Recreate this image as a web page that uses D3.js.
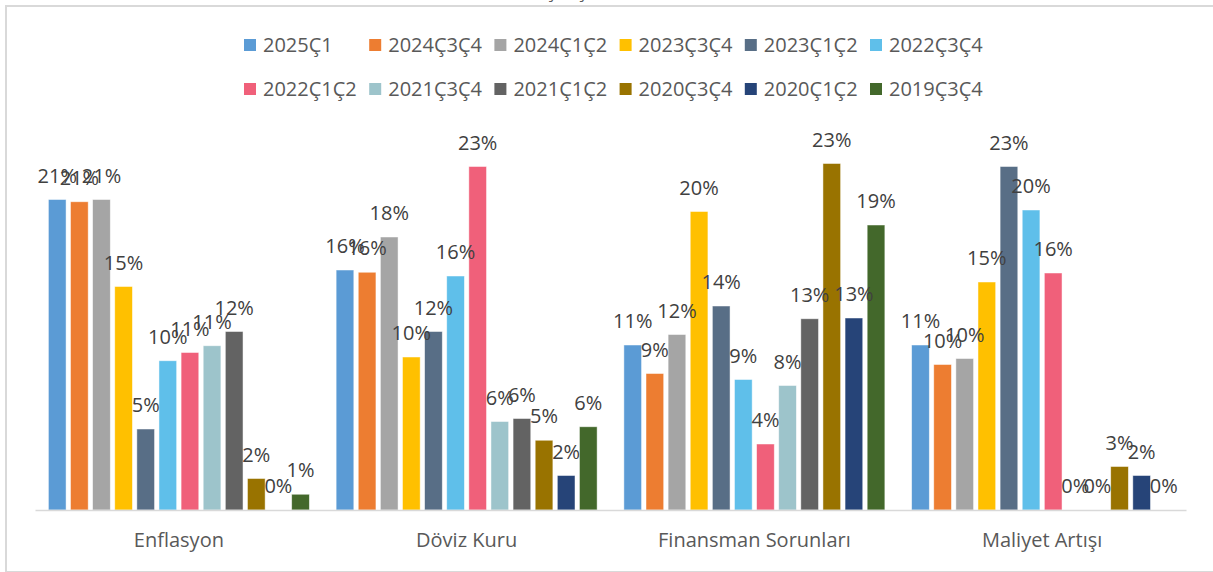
<!DOCTYPE html>
<html>
<head>
<meta charset="utf-8">
<script src="https://cdn.jsdelivr.net/npm/d3@7"></script>
<style>
  body { margin: 0; background: #fff; }
  svg { display: block; font-family: "Open Sans", sans-serif; }
</style>
</head>
<body>
<svg></svg>
<script>
const width = 1213;
const height = 572;

// data
const categories = ["Enflasyon", "Döviz Kuru", "Finansman Sorunları", "Maliyet Artışı"];
const series = ["2025Ç1", "2024Ç3Ç4", "2024Ç1Ç2", "2023Ç3Ç4", "2023Ç1Ç2", "2022Ç3Ç4",
                "2022Ç1Ç2", "2021Ç3Ç4", "2021Ç1Ç2", "2020Ç3Ç4", "2020Ç1Ç2", "2019Ç3Ç4"];
// values (%) per category, in series order
const enflasyon = [20.7, 20.55, 20.7, 14.9, 5.4, 9.95, 10.5, 10.95, 11.9, 2.1, 0, 1.05];
const dovizKuru = [16.0, 15.85, 18.2, 10.2, 11.9, 15.6, 22.9, 5.9, 6.1, 4.65, 2.3, 5.55];
const finansman = [11.0, 9.1, 11.7, 19.9, 13.6, 8.7, 4.4, 8.3, 12.75, 23.1, 12.8, 19.0];
const maliyet = [11.0, 9.7, 10.1, 15.2, 22.9, 20.0, 15.8, 0, 0, 2.9, 2.3, 0];
const values = [enflasyon, dovizKuru, finansman, maliyet];

const colors = ["#5B9BD5", "#ED7D31", "#A5A5A5", "#FFC000", "#586E86", "#5FBFEA",
                "#F0607A", "#9DC4CB", "#636363", "#997300", "#264478", "#43682B"];

let svg = d3.select("svg")
    .attr("width", width)
    .attr("height", height);

// chart frame
svg.append("rect")
    .attr("x", 6).attr("y", 6)
    .attr("width", width + 20).attr("height", height - 6)
    .attr("fill", "none")
    .attr("stroke", "#d9d9d9")
    .attr("stroke-width", 2);

// title (mostly outside the picture)
svg.append("text")
    .attr("x", 610).attr("y", -3)
    .attr("text-anchor", "middle")
    .style("font-size", "20px")
    .style("fill", "#595959")
    .text("Karşılaşılan Sorunlar");

// scales
const x0 = d3.scaleBand()
    .domain(categories)
    .range([35, 1186])
    .paddingInner(0.093)
    .paddingOuter(0.0465);

const x1 = d3.scaleBand()
    .domain(series)
    .range([0, x0.bandwidth()])
    .paddingInner(0.2);

const y = d3.scaleLinear()
    .domain([0, 25])
    .range([510, 135]);

// bars
let groups = svg.append("g").selectAll("g")
    .data(categories)
    .join("g")
    .attr("transform", d => `translate(${x0(d)},0)`);

groups.selectAll("rect")
    .data((d, i) => values[i].map((v, j) => ({ s: series[j], v: v, c: colors[j] })))
    .join("rect")
    .attr("x", d => x1(d.s))
    .attr("y", d => y(d.v))
    .attr("width", x1.bandwidth())
    .attr("height", d => y(0) - y(d.v))
    .attr("fill", d => d.c)
    .attr("stroke", "#ffffff")
    .attr("stroke-opacity", 0.6)
    .attr("stroke-width", 0.8);

// data labels
groups.selectAll("text")
    .data((d, i) => values[i].map((v, j) => ({ s: series[j], v: v })))
    .join("text")
    .attr("x", d => x1(d.s) + x1.bandwidth() / 2)
    .attr("y", d => y(d.v) - 17)
    .attr("text-anchor", "middle")
    .style("font-size", "20px")
    .style("fill", "#404040")
    .text(d => Math.round(d.v) + "%");

// x axis
const xAxis = svg.append("g")
    .attr("transform", `translate(0,${y(0)})`)
    .call(d3.axisBottom(x0).tickSize(0).tickPadding(23));
xAxis.select(".domain").attr("stroke", "#d9d9d9").attr("stroke-width", 1.5);
xAxis.selectAll("text")
    .style("font-family", "Open Sans, sans-serif")
    .style("font-size", "20px")
    .style("fill", "#595959");

// legend: 6 columns, 2 rows
let legend = svg.append("g").selectAll("g")
    .data(series)
    .join("g")
    .attr("transform", (d, i) => `translate(${244 + (i % 6) * 125.2},${i < 6 ? 45 : 89})`);

legend.append("rect")
    .attr("x", 0).attr("y", -6)
    .attr("width", 12).attr("height", 12)
    .attr("fill", (d, i) => colors[i]);

legend.append("text")
    .attr("x", 19)
    .attr("dy", "0.35em")
    .style("font-size", "20px")
    .style("fill", "#595959")
    .text(d => d);
</script>
</body>
</html>
